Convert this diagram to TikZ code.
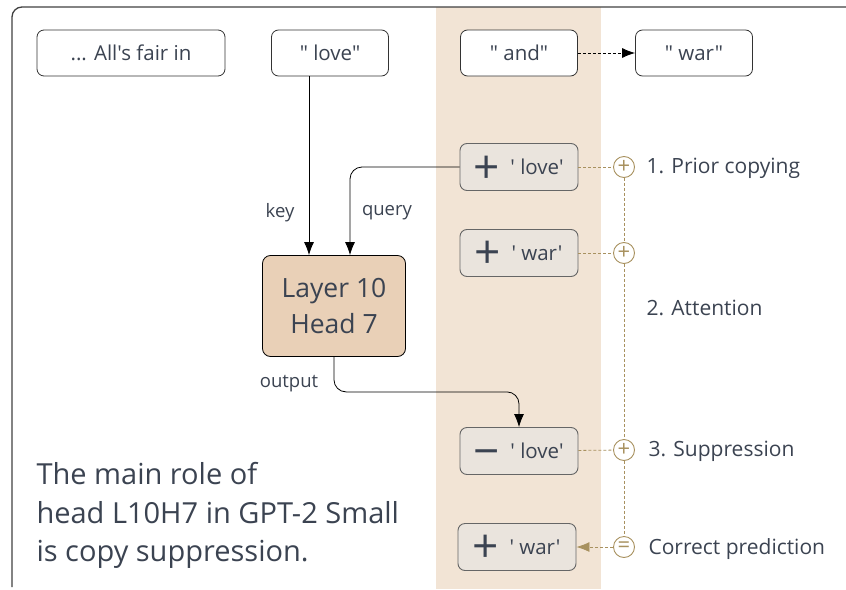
\documentclass[tikz,border=0pt]{standalone}
\usepackage{fontspec}
\setmainfont{Open Sans}[Ligatures=TeXOff]
\usetikzlibrary{arrows.meta}

\definecolor{inkgray}{HTML}{3B4351}
\definecolor{bandtan}{HTML}{F2E4D5}
\definecolor{headfill}{HTML}{E9D0B7}
\definecolor{termfill}{HTML}{EAE4DD}
\definecolor{sumtan}{HTML}{A8915F}

\newcommand{\sgn}[1]{\raisebox{-8.5pt}[0pt][0pt]{\makebox[24pt]{\fontsize{46}{46}\selectfont #1}}\hspace{12pt}}

\begin{document}
\begin{tikzpicture}[x=1pt,y=1pt,
  token/.style={draw=black!80,fill=white,rounded corners=7pt,line width=0.8pt,
    minimum width=117pt,minimum height=46pt,text=inkgray,font=\fontsize{20.5}{24}\selectfont},
  term/.style={draw=black!60,fill=termfill,rounded corners=7pt,line width=0.9pt,
    minimum width=118pt,minimum height=47pt,text=inkgray,font=\fontsize{20.5}{24}\selectfont},
  headbox/.style={draw=black,fill=headfill,rounded corners=8pt,line width=0.8pt,
    minimum width=143pt,minimum height=101pt,align=center,text=inkgray,
    font=\fontsize{26.5}{36}\selectfont},
  sum/.style={circle,draw=sumtan,fill=white,minimum size=21pt,inner sep=0pt,
    line width=0.9pt,text=sumtan,font=\fontsize{22}{22}\selectfont},
  stage/.style={anchor=west,text=inkgray,font=\fontsize{21}{24}\selectfont},
  tag/.style={text=inkgray,font=\fontsize{18.5}{20}\selectfont},
  wire/.style={draw=black,line width=0.8pt,-{Latex[length=13pt,width=10pt]}},
  trace/.style={draw=sumtan,line width=0.8pt,dash pattern=on 3pt off 2pt}]

  \useasboundingbox (0,0) rectangle (846,-589);

  % backdrop
  \fill[bandtan] (436,-7) rectangle (601,-589);
  \draw[black!75,line width=1.3pt,rounded corners=10pt] (12,-587) -- (12,-7) -- (846,-7);

  % input tokens
  \node[token,minimum width=188pt] (ctx) at (131,-53) {... All's fair in};
  \node[token] (love) at (330,-53) {" love"};
  \node[token] (and) at (519,-53) {" and"};
  \node[token] (war) at (694,-53) {" war"};

  % residual stream terms
  \node[term] (copy) at (519,-167) {\sgn{+}' love'};
  \node[term] (prior) at (519,-253) {\sgn{+}' war'};
  \node[term] (supp) at (519,-451) {\sgn{−}' love'};
  \node[term] (pred) at (517,-547) {\sgn{+}' war'};

  \node[headbox] (head) at (334,-306) {Layer 10\\Head 7};

  % sums
  \node[sum] (s1) at (624,-167) {+};
  \node[sum] (s2) at (624,-253) {+};
  \node[sum] (s3) at (624,-450) {+};
  \node[sum] (eq) at (624,-547) {=};

  \node[stage] (l1) at (643,-168) {1. Prior copying};
  \node[stage] (l2) at (643,-308) {2. Attention};
  \node[stage] (l3) at (645,-451) {3. Suppression};
  \node[stage] (l4) at (645,-549) {Correct prediction};

  % head inputs and output
  \coordinate (keyin) at (309,-256);
  \coordinate (queryin) at (350,-256);
  \draw[wire] (love.south -| keyin) -- (keyin |- head.north);
  \draw[wire,rounded corners=12pt] (copy.west) -| (queryin |- head.north);
  \draw[wire,rounded corners=12pt] (head.south) -- ++(0,-35) -| (supp.north);
  \draw[wire,dash pattern=on 3pt off 2pt] (and) -- (war);

  \node[tag] (keytag) at (280,-213) {key};
  \node[tag] (querytag) at (387,-213) {query};
  \node[tag] (outtag) at (289,-384) {output};

  % summing chain
  \draw[trace] (copy) -- (s1);
  \draw[trace] (prior) -- (s2);
  \draw[trace] (supp) -- (s3);
  \draw[trace] (s1) -- (s2) -- (s3) -- (eq);
  \draw[trace,-{Latex[length=13pt,width=10pt,fill=sumtan]}] (eq) -- (pred);

  \node[anchor=north west,align=left,text=inkgray,font=\fontsize{29}{38.5}\selectfont]
    (role) at (33,-459) {The main role of\\head L10H7 in GPT-2 Small\\is copy suppression.};
\end{tikzpicture}
\end{document}
